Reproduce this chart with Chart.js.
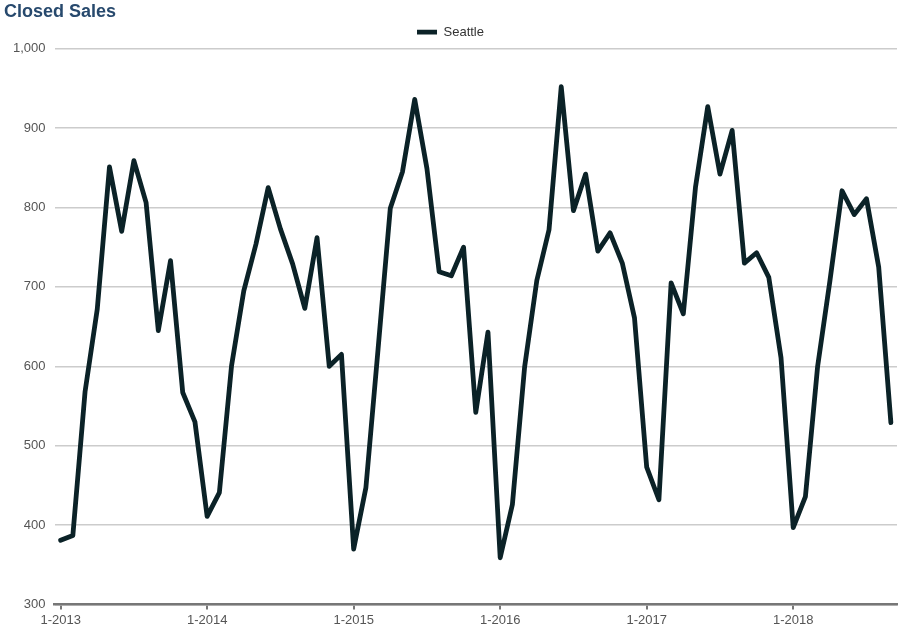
<!DOCTYPE html>
<html>
<head>
<meta charset="utf-8">
<script src="https://cdn.jsdelivr.net/npm/chart.js@4/dist/chart.umd.min.js"></script>
<style>
	html, body { margin: 0; padding: 0; background: #fff; }
	#wrap { width: 901px; height: 632px; position: relative; }
</style>
</head>
<body>
<div id="wrap"><canvas id="chart"></canvas></div>
<script>
// Closed sales, Seattle, monthly from 1-2013 to 9-2018
var startYear = 2013;
var sales2013 = [381, 387, 568, 672, 851, 770, 859, 806, 645, 733, 567, 530];
var sales2014 = [411, 441, 601, 695, 754, 825, 773, 729, 673, 762, 600, 615];
var sales2015 = [370, 447, 622, 799, 845, 936, 849, 719, 714, 750, 542, 643];
var sales2016 = [359, 426, 599, 708, 772, 952, 796, 842, 745, 768, 730, 661];
var sales2017 = [473, 432, 705, 666, 826, 927, 842, 897, 730, 743, 712, 611];
var sales2018 = [397, 436, 600, 707, 821, 791, 811, 725, 529];
var yTicks = [300, 400, 500, 600, 700, 800, 900, 1000];

var seattle = [].concat(sales2013, sales2014, sales2015, sales2016, sales2017, sales2018);

// month labels "M-YYYY", one per value
var labels = [];
for (var i = 0; i < seattle.length; i++) {
	labels.push((i % 12 + 1) + "-" + (startYear + Math.floor(i / 12)));
}

var lineColor = "#0b2227";
var textColor = "#555555";
var gridColor = "#cccccc";
var fontFamily = "Liberation Sans, Arial, sans-serif";

new Chart(document.getElementById("chart"), {
	type: "line",
	data: {
		labels: labels,
		datasets: [{
			label: "Seattle",
			data: seattle,
			borderColor: lineColor,
			backgroundColor: lineColor,
			borderWidth: 4.8,
			borderCapStyle: "round",
			borderJoinStyle: "round",
			pointRadius: 0,
			pointStyle: "line",
			tension: 0,
			fill: false
		}]
	},
	options: {
		responsive: true,
		maintainAspectRatio: false,
		animation: false,
		layout: { padding: { left: 4, right: 4, top: 0, bottom: 0 } },
		plugins: {
			title: {
				display: true,
				text: "Closed Sales",
				align: "start",
				color: "#27496d",
				font: { family: fontFamily, size: 18, weight: "bold" },
				padding: { top: 1, bottom: 0 }
			},
			legend: {
				display: true,
				labels: {
					color: "#333333",
					usePointStyle: true,
					pointStyleWidth: 20,
					font: { family: fontFamily, size: 13 },
					padding: 3
				}
			},
			tooltip: { enabled: false }
		},
		scales: {
			x: {
				type: "category",
				offset: true,
				grid: {
					display: true,
					drawOnChartArea: false,
					drawTicks: true,
					tickLength: 5,
					color: "#777777",
					lineWidth: 2,
					offset: false
				},
				border: { display: true, color: "#777777", width: 2.5 },
				afterBuildTicks: function(scale) {
					scale.ticks = scale.ticks.filter(function(t) { return t.value % 12 === 0; });
				},
				ticks: {
					autoSkip: false,
					maxRotation: 0,
					color: textColor,
					padding: 6,
					font: { family: fontFamily, size: 13, lineHeight: 0.8 },
					callback: function(value) { return labels[value]; }
				}
			},
			y: {
				min: 300,
				max: 1000,
				afterBuildTicks: function(scale) {
					scale.ticks = yTicks.map(function(v) { return { value: v }; });
				},
				grid: { color: gridColor, lineWidth: 1.5, drawTicks: false },
				border: { display: false },
				ticks: {
					color: textColor,
					padding: 9,
					font: { family: fontFamily, size: 13 },
					callback: function(value) { return value.toLocaleString("en-US"); }
				}
			}
		}
	}
});
</script>
</body>
</html>
